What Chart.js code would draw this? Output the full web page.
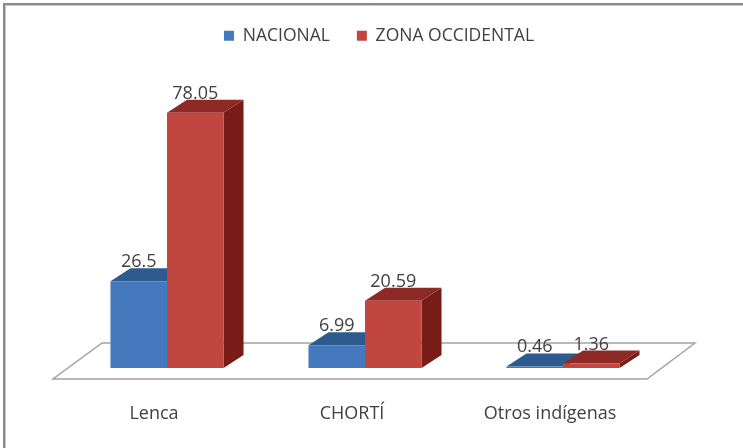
<!DOCTYPE html>
<html>
<head>
<meta charset="utf-8">
<script src="https://cdn.jsdelivr.net/npm/chart.js@4.4.0/dist/chart.umd.min.js"></script>
<style>
  html, body { margin: 0; padding: 0; background: #ffffff; }
  #wrap { width: 743px; height: 448px; }
</style>
</head>
<body>
<div id="wrap"><canvas id="c" width="743" height="448"></canvas></div>
<script>
const categories = ['Lenca', 'CHORTÍ', 'Otros indígenas'];
const nacional = [26.5, 6.99, 0.46];
const zonaOccidental = [78.05, 20.59, 1.36];
const seriesNames = ['NACIONAL', 'ZONA OCCIDENTAL'];

const FONT = '"Open Sans", "DejaVu Sans", sans-serif';
const TEXT = '#404040';
const faces = [
  { front: '#4479be', top: '#2e5b8d', side: '#294f7b' },
  { front: '#c0463f', top: '#8e2a25', side: '#771c17' }
];
const DX = 20, DY = -13;
const LEGEND_SHIFT = 14;

const pageFrame = {
  id: 'pageFrame',
  afterLayout(chart) {
    if (chart.legend) {
      chart.legend.left += LEGEND_SHIFT;
      chart.legend.right += LEGEND_SHIFT;
    }
  },
  beforeDraw(chart) {
    const ctx = chart.ctx;
    ctx.save();
    ctx.fillStyle = '#ffffff';
    ctx.fillRect(0, 0, chart.width, chart.height);
    ctx.strokeStyle = '#8a8a8a';
    ctx.lineWidth = 2;
    ctx.beginPath();
    ctx.moveTo(4, chart.height + 5);
    ctx.lineTo(4, 4);
    ctx.lineTo(chart.width + 5, 4);
    ctx.stroke();
    ctx.strokeStyle = '#c8c8c8';
    ctx.lineWidth = 1;
    ctx.beginPath();
    ctx.moveTo(5.5, chart.height + 5);
    ctx.lineTo(5.5, 5.5);
    ctx.lineTo(chart.width + 5, 5.5);
    ctx.stroke();
    ctx.restore();
  }
};

const bars3d = {
  id: 'bars3d',
  beforeDatasetsDraw(chart) {
    const ctx = chart.ctx;
    const a = chart.chartArea;
    ctx.save();
    // floor
    ctx.beginPath();
    ctx.moveTo(a.left - 15, a.bottom + 11);
    ctx.lineTo(a.right - 15, a.bottom + 11);
    ctx.lineTo(a.right + 33, a.bottom - 25);
    ctx.lineTo(a.left + 34, a.bottom - 25);
    ctx.closePath();
    ctx.fillStyle = '#ffffff';
    ctx.fill();
    ctx.strokeStyle = '#a3a3a3';
    ctx.lineWidth = 1.5;
    ctx.stroke();
    // top & side faces
    const n = chart.data.labels.length;
    for (let i = 0; i < n; i++) {
      chart.data.datasets.forEach((ds, d) => {
        const el = chart.getDatasetMeta(d).data[i];
        const l = el.x - el.width / 2, r = el.x + el.width / 2;
        const t = el.y, b = el.base;
        ctx.fillStyle = faces[d].side;
        ctx.beginPath();
        ctx.moveTo(r, t); ctx.lineTo(r + DX, t + DY);
        ctx.lineTo(r + DX, b + DY); ctx.lineTo(r, b);
        ctx.closePath(); ctx.fill();
        ctx.fillStyle = faces[d].top;
        ctx.beginPath();
        ctx.moveTo(l, t); ctx.lineTo(r, t);
        ctx.lineTo(r + DX, t + DY); ctx.lineTo(l + DX, t + DY);
        ctx.closePath(); ctx.fill();
      });
    }
    ctx.restore();
  },
  afterDatasetsDraw(chart) {
    const ctx = chart.ctx;
    ctx.save();
    ctx.font = '18px ' + FONT;
    ctx.fillStyle = TEXT;
    ctx.textAlign = 'center';
    ctx.textBaseline = 'alphabetic';
    chart.data.datasets.forEach((ds, d) => {
      chart.getDatasetMeta(d).data.forEach((el, i) => {
        ctx.fillText(String(ds.data[i]), el.x, el.y + DY - 1);
      });
    });
    ctx.restore();
  }
};

new Chart(document.getElementById('c'), {
  type: 'bar',
  data: {
    labels: categories,
    datasets: [
      { label: seriesNames[0], data: nacional, backgroundColor: faces[0].front, borderWidth: 0 },
      { label: seriesNames[1], data: zonaOccidental, backgroundColor: faces[1].front, borderWidth: 0 }
    ]
  },
  options: {
    responsive: false,
    animation: false,
    devicePixelRatio: 1,
    layout: { padding: { left: 68, right: 81, top: 0, bottom: 23 } },
    datasets: { bar: { barPercentage: 1, categoryPercentage: 0.571 } },
    plugins: {
      legend: {
        position: 'top',
        labels: {
          boxWidth: 10, boxHeight: 10, padding: 27,
          color: TEXT,
          font: { family: FONT, size: 17.5 }
        }
      },
      tooltip: { enabled: false }
    },
    scales: {
      x: {
        grid: { display: false, drawTicks: false },
        border: { display: false },
        ticks: { color: TEXT, font: { family: FONT, size: 18 }, padding: 35, labelOffset: -13 },
        afterFit(scale) { scale.height = 57; }
      },
      y: {
        display: false,
        min: 0,
        max: 95.9
      }
    }
  },
  plugins: [pageFrame, bars3d]
});
</script>
</body>
</html>
